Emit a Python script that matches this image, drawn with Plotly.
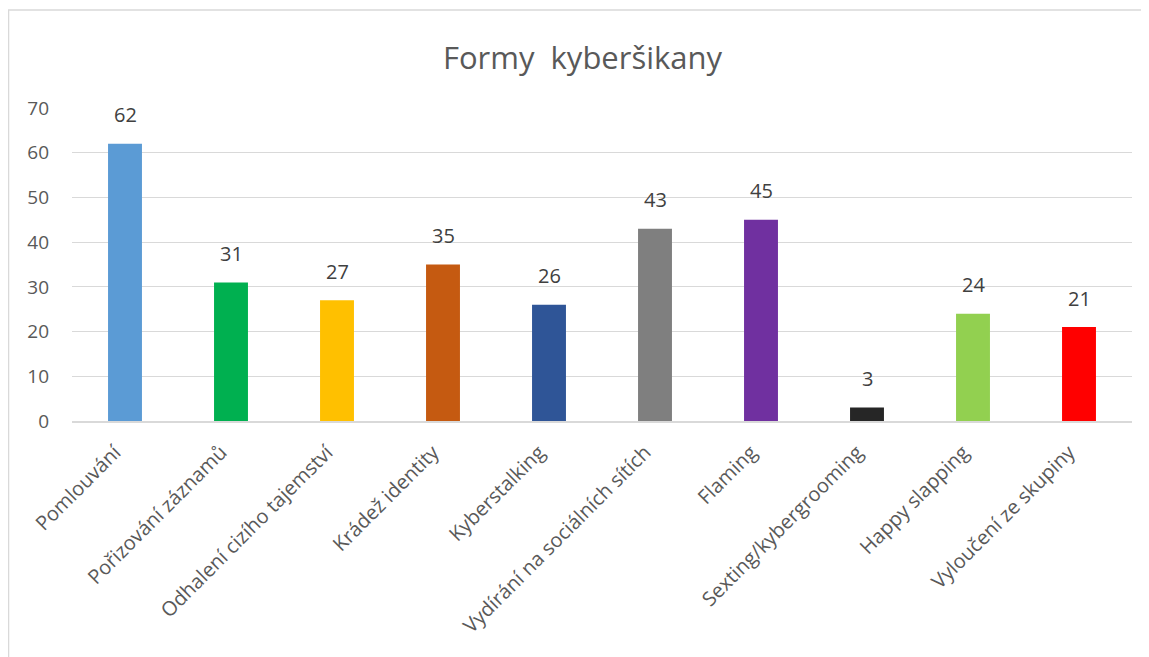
import plotly.graph_objects as go

categories = ["Pomlouvání", "Pořizování záznamů", "Odhalení cizího tajemství",
              "Krádež identity", "Kyberstalking", "Vydírání na sociálních sítích",
              "Flaming", "Sexting/kybergrooming", "Happy slapping", "Vyloučení ze skupiny"]
values = [62, 31, 27, 35, 26, 43, 45, 3, 24, 21]
colors = ["#5B9BD5", "#00B050", "#FFC000", "#C55A11", "#2F5597",
          "#7F7F7F", "#7030A0", "#262626", "#92D050", "#FF0000"]
y_ticks = [0, 10, 20, 30, 40, 50, 60, 70]
title_text = "Formy \u00a0kyberšikany"

FONT = "Open Sans"

fig = go.Figure()
fig.add_trace(go.Bar(
    x=categories, y=values, marker=dict(color=colors, line=dict(width=0)),
    width=0.32, hoverinfo="x+y",
))

for c, v in zip(categories, values):
    fig.add_annotation(x=c, y=v, text=str(v), showarrow=False, yanchor="middle",
                       yshift=29, font=dict(family=FONT, size=20, color="#404040"))

fig.add_shape(type="rect", xref="paper", yref="paper",
              x0=-0.0599, x1=1.08, y0=-0.9, y1=1.313,
              line=dict(color="#D9D9D9", width=1.5), fillcolor="rgba(0,0,0,0)", layer="below")

fig.update_layout(
    width=1149, height=657,
    margin=dict(l=64, r=25, t=100, b=244),
    paper_bgcolor="white", plot_bgcolor="white",
    showlegend=False,
    title=dict(text=title_text, x=0.5, xanchor="center", y=0.923, yanchor="middle",
               font=dict(family=FONT, size=31, color="#595959")),
    xaxis=dict(showgrid=False, showline=True, linecolor="#D9D9D9", linewidth=1.5,
               tickangle=-45, ticks="", ticklabelstandoff=10, ticklabelshift=-10,
               tickfont=dict(family=FONT, size=20, color="#595959"),
               fixedrange=True),
    yaxis=dict(range=[0, 70], tickvals=y_ticks, showgrid=True, gridcolor="#D9D9D9", gridwidth=1,
               zeroline=False, showline=False, ticks="", ticklabelstandoff=22,
               tickfont=dict(family=FONT, size=19, color="#595959"), fixedrange=True),
    font=dict(family=FONT),
)

fig.write_html("out.html")
